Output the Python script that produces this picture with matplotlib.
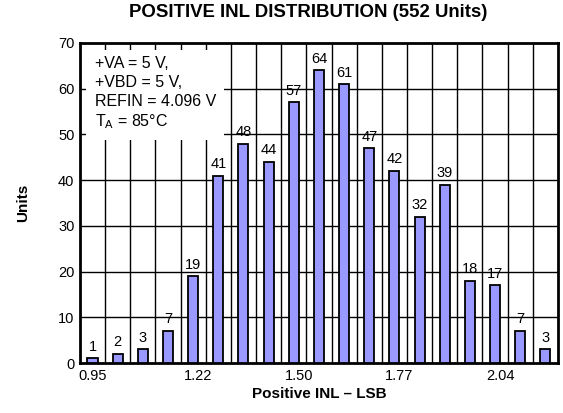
import matplotlib.pyplot as plt
import numpy as np

plt.rcParams['font.family'] = ['Liberation Sans', 'DejaVu Sans']

# units counted in each INL bin
counts = [1, 2, 3, 7, 19, 41, 48, 44, 57, 64, 61, 47, 42, 32, 39, 18, 17, 7, 3]
tick_labels = ['0.95', '1.22', '1.50', '1.77', '2.04']
tick_bins = [0, 4.2, 8.2, 12.2, 16.2]

fig = plt.figure(figsize=(5.63, 4.13), dpi=100)
ax = fig.add_axes([0.142, 0.121, 0.849, 0.775])

x = np.arange(len(counts))
ax.bar(x, counts, width=0.4, color='#9999ff', edgecolor='black', linewidth=1.3, zorder=3)
for xi, c in zip(x, counts):
    ax.text(xi, c + 1.0, str(c), ha='center', va='bottom', fontsize=10.5, zorder=4)

ax.set_xlim(-0.5, len(counts) - 0.5)
ax.set_ylim(0, 70)

# grid: one vertical line between each bin, horizontal every 10 units
for b in np.arange(0.5, len(counts) - 0.5, 1.0):
    ax.axvline(b, color='black', linewidth=1.0, zorder=1)
for yv in range(10, 70, 10):
    ax.axhline(yv, color='black', linewidth=1.0, zorder=1)

ax.set_xticks(tick_bins)
ax.set_xticklabels(tick_labels)
ax.set_yticks(range(0, 71, 10))
ax.tick_params(length=0, labelsize=10.5, pad=4)
for s in ax.spines.values():
    s.set_linewidth(2)

ax.text(0.031, 0.958, '+VA = 5 V,\n+VBD = 5 V,\nREFIN = 4.096 V\nT$_\\mathregular{A}$ = 85°C',
        transform=ax.transAxes, ha='left', va='top', fontsize=11.5, linespacing=1.3,
        bbox=dict(facecolor='white', edgecolor='none', pad=6), zorder=5)

ax.set_xlabel('Positive INL – LSB', fontsize=11, fontweight='bold', labelpad=3)
ax.set_ylabel('Units', fontsize=11, fontweight='bold', labelpad=20)
fig.suptitle('POSITIVE INL DISTRIBUTION (552 Units)', x=0.547, y=0.99,
             fontsize=13.4, fontweight='bold')

fig.savefig('out.png', dpi=100)
